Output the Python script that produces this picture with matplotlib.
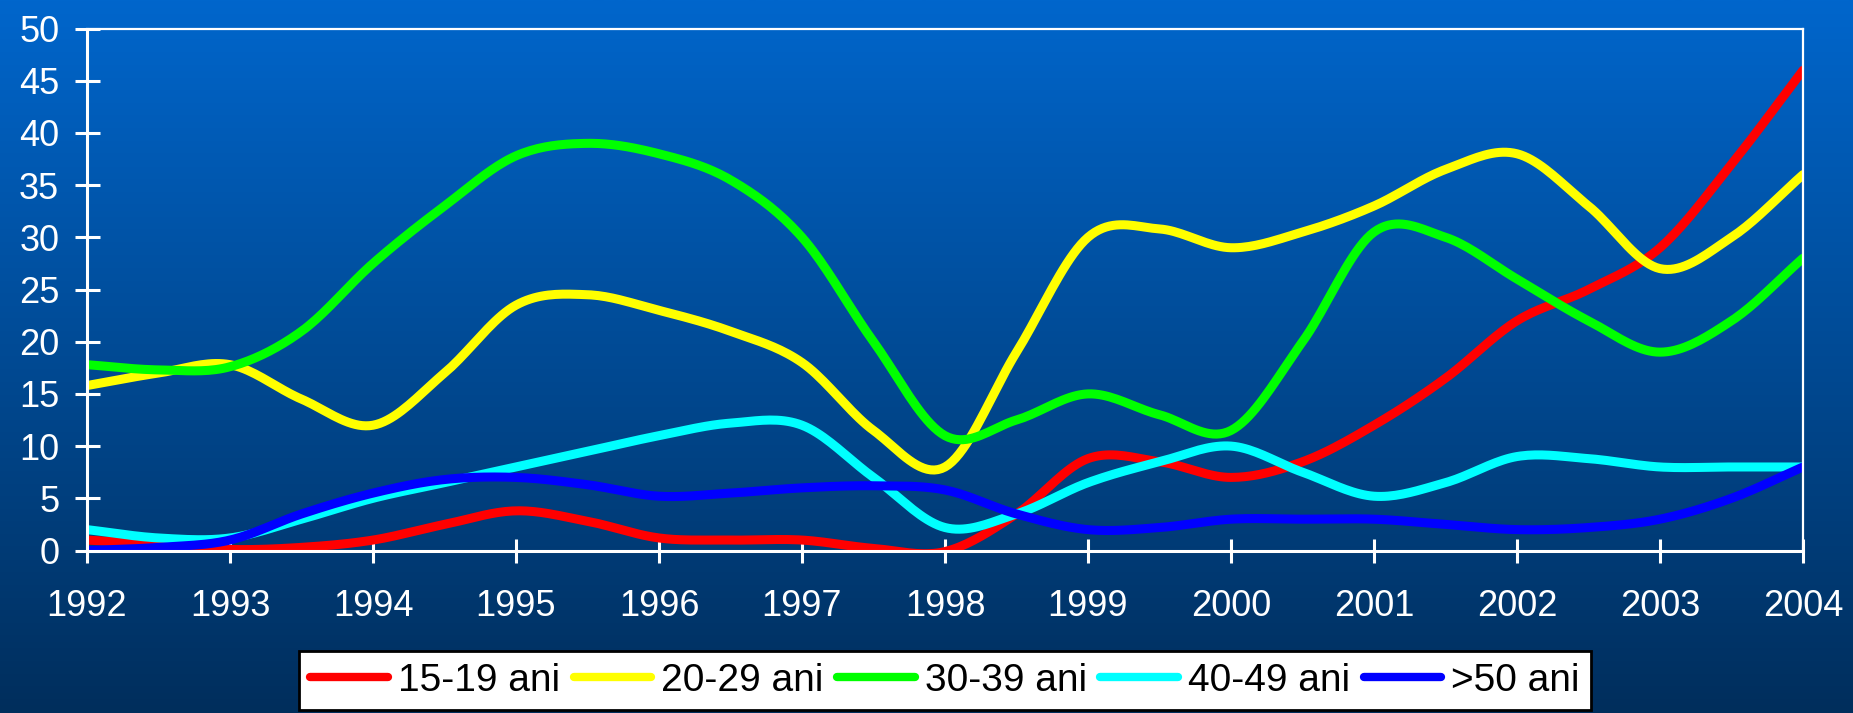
import numpy as np
import matplotlib
matplotlib.use("Agg")
import matplotlib.pyplot as plt
from matplotlib.lines import Line2D

plt.rcParams['font.family'] = ['Liberation Sans', 'DejaVu Sans']

# ---- data (read at half-year steps) ----
years = [1992 + 0.5 * i for i in range(25)]
tick_years = list(range(1992, 2005))

s15_19 = [1.0, 0.6, 0.1, 0.3, 1.0, 2.5, 3.8, 2.8, 1.2, 1.0, 1.0, 0.2, -0.1,
          3.5, 8.8, 8.5, 7.0, 8.5, 12.0, 16.5, 22.0, 25.0, 29.0, 37.0, 46.0]
s20_29 = [15.8, 17.0, 17.8, 14.5, 12.0, 17.0, 23.5, 24.5, 23.0, 21.0, 18.0, 11.5, 8.0,
          19.0, 30.0, 30.8, 29.0, 30.5, 33.0, 36.5, 38.0, 33.0, 27.0, 30.0, 36.0]
s30_39 = [17.8, 17.3, 17.6, 21.0, 27.5, 33.0, 37.8, 39.0, 38.0, 35.5, 30.0, 20.0, 11.0,
          12.5, 15.0, 13.0, 11.5, 20.0, 30.5, 30.0, 26.0, 22.0, 19.0, 22.0, 28.0]
s40_49 = [2.0, 1.2, 1.2, 3.0, 5.0, 6.5, 8.0, 9.5, 11.0, 12.2, 12.0, 7.0, 2.2,
          3.5, 6.5, 8.5, 10.0, 7.5, 5.2, 6.5, 9.0, 8.8, 8.0, 8.0, 8.0]
s50 = [0.0, 0.3, 1.0, 3.5, 5.5, 6.8, 7.0, 6.3, 5.2, 5.5, 6.0, 6.2, 5.8,
       3.5, 2.0, 2.2, 3.0, 3.0, 3.0, 2.5, 2.0, 2.2, 3.0, 5.0, 8.0]

labels = ['15-19 ani', '20-29 ani', '30-39 ani', '40-49 ani', '>50 ani']
series = [s15_19, s20_29, s30_39, s40_49, s50]
colors = ['#FF0000', '#FFFF00', '#00FF00', '#00FFFF', '#0000FF']


def smooth(x, y, n=20):
    x = np.asarray(x, float)
    y = np.asarray(y, float)
    xp = np.concatenate([[2 * x[0] - x[1]], x, [2 * x[-1] - x[-2]]])
    yp = np.concatenate([[2 * y[0] - y[1]], y, [2 * y[-1] - y[-2]]])
    t = np.linspace(0, 1, n, endpoint=False)
    ox, oy = [], []
    for i in range(1, len(xp) - 2):
        for arr, out in ((xp, ox), (yp, oy)):
            p0, p1, p2, p3 = arr[i - 1], arr[i], arr[i + 1], arr[i + 2]
            out.extend(0.5 * ((2 * p1) + (-p0 + p2) * t +
                              (2 * p0 - 5 * p1 + 4 * p2 - p3) * t ** 2 +
                              (-p0 + 3 * p1 - 3 * p2 + p3) * t ** 3))
    ox.append(x[-1])
    oy.append(y[-1])
    return np.array(ox), np.array(oy)


W, H = 1853, 713
fig = plt.figure(figsize=(W / 100, H / 100), dpi=100)

# gradient background
bg = fig.add_axes([0, 0, 1, 1], zorder=-10)
top = np.array([0x00, 0x66, 0xCC]) / 255.0
bot = np.array([0x00, 0x2E, 0x5C]) / 255.0
g = np.linspace(0, 1, 256)[:, None]
img = top[None, None, :] * (1 - g[:, :, None]) + bot[None, None, :] * g[:, :, None]
img = np.repeat(img, 2, axis=1)
bg.imshow(img, aspect='auto', extent=[0, 1, 0, 1])
bg.set_axis_off()

L, R, T, B = 87, 1803, 28.5, 550.5
ax = fig.add_axes([L / W, 1 - B / H, (R - L) / W, (B - T) / H])
ax.set_facecolor('none')

for s, c, lab in zip(series, colors, labels):
    sx, sy = smooth(years, s)
    ax.plot(sx, sy, color=c, lw=6.5, solid_capstyle='round', solid_joinstyle='round', label=lab)

ax.set_xlim(1992, 2004)
ax.set_ylim(0, 50)
ax.set_xticks(tick_years)
ax.set_xticklabels([str(y) for y in tick_years])
ax.set_yticks(range(0, 51, 5))
for sp in ax.spines.values():
    sp.set_color('white')
ax.spines['left'].set_linewidth(2.2)
ax.spines['bottom'].set_linewidth(2.2)
ax.spines['top'].set_linewidth(1.6)
ax.spines['right'].set_linewidth(1.6)
ax.tick_params(axis='both', colors='white', labelcolor='white', labelsize=26,
               direction='inout', width=2.2)
ax.tick_params(axis='x', length=17, pad=19)
ax.tick_params(axis='y', length=18, pad=11)

handles = [Line2D([0], [0], color=c, lw=6, solid_capstyle='round') for c in colors]
leg = fig.legend(handles, labels, loc='upper center', bbox_to_anchor=(0.51, 1 - 651 / H),
                 ncol=5, fontsize=28, frameon=True, fancybox=False, framealpha=1,
                 handlelength=2.0, handletextpad=0.25, columnspacing=0.35,
                 borderpad=0.3, borderaxespad=0)
leg.get_frame().set_facecolor('white')
leg.get_frame().set_edgecolor('black')
leg.get_frame().set_linewidth(2)
for t in leg.get_texts():
    t.set_color('black')

fig.savefig('out.png', dpi=100)
